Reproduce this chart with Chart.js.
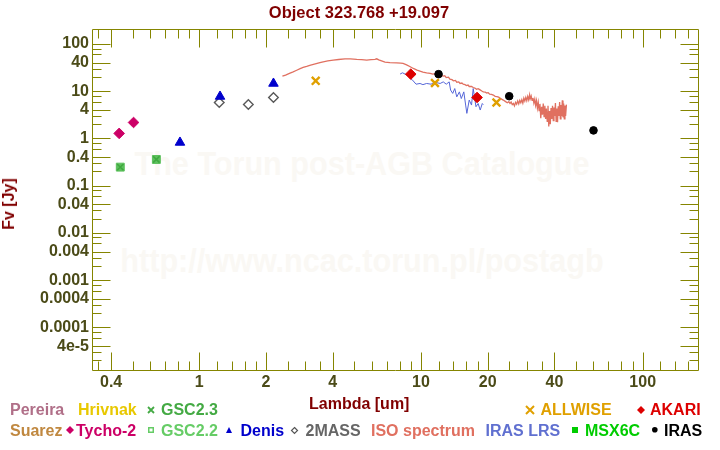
<!DOCTYPE html>
<html><head><meta charset="utf-8">
<script src="https://cdn.jsdelivr.net/npm/chart.js@4.4.1/dist/chart.umd.min.js"></script>
<style>
body{margin:0;background:#fff;}
#wrap{position:relative;width:720px;height:450px;overflow:hidden;font-family:"Liberation Sans",Arial,sans-serif;font-weight:bold;}
#wrap canvas{position:absolute;left:0;top:0;}
.t{position:absolute;white-space:nowrap;font-size:16px;line-height:16px;}
.wm{position:absolute;white-space:nowrap;font-size:34px;line-height:34px;color:#faf8f4;transform:translateX(-50%) scaleX(0.9);}
svg{position:absolute;overflow:visible;}
</style></head>
<body>
<div id="wrap">
  <div class="wm" style="left:362px;top:146px">The Torun post-AGB Catalogue</div>
  <div class="wm" style="left:362px;top:243px">http://www.ncac.torun.pl/postagb</div>
  <canvas id="c" width="720" height="450"></canvas>
  <div class="t" style="left:359px;top:3.5px;font-size:16.5px;color:#800000;transform:translateX(-50%)">Object 323.768 +19.097</div>
  <div class="t" style="left:309px;top:395.5px;color:#800000">Lambda [um]</div>
  <div class="t" style="left:9.4px;top:203.7px;color:#800000;transform:translate(-50%,-50%) rotate(-90deg)">Fv [Jy]</div>
  <!-- legend row 1 -->
  <div class="t" style="left:10px;top:402.2px;color:#b06f88">Pereira</div>
  <div class="t" style="left:78px;top:402.2px;color:#e8c800">Hrivnak</div>
  <svg style="left:148px;top:407px" width="6" height="6"><path d="M0 0L6 6M6 0L0 6" stroke="#44aa44" stroke-width="1.8"/></svg>
  <div class="t" style="left:161px;top:402.2px;color:#44aa44">GSC2.3</div>
  <svg style="left:526px;top:406px" width="8" height="8"><path d="M0 0L8 8M8 0L0 8" stroke="#e0a000" stroke-width="2"/></svg>
  <div class="t" style="left:540.5px;top:402.2px;color:#e0a000">ALLWISE</div>
  <svg style="left:637px;top:406px" width="8" height="8"><path d="M4 0L8 4L4 8L0 4Z" fill="#dd0000"/></svg>
  <div class="t" style="left:650px;top:402.2px;color:#dd0000">AKARI</div>
  <!-- legend row 2 -->
  <div class="t" style="left:10px;top:422.8px;color:#c08840">Suarez</div>
  <svg style="left:66px;top:426px" width="8" height="8"><path d="M4 0L8 4L4 8L0 4Z" fill="#cc0066"/></svg>
  <div class="t" style="left:76px;top:422.8px;color:#cc0066">Tycho-2</div>
  <svg style="left:148px;top:427px" width="6" height="6"><rect x="0.75" y="0.75" width="4.5" height="4.5" fill="none" stroke="#66cc66" stroke-width="1.5"/></svg>
  <div class="t" style="left:161px;top:422.8px;color:#66cc66">GSC2.2</div>
  <svg style="left:225.7px;top:427px" width="6" height="6"><path d="M3 0L6 6L0 6Z" fill="#0000cc"/></svg>
  <div class="t" style="left:240.5px;top:422.8px;color:#0000cc">Denis</div>
  <svg style="left:291.2px;top:426.5px" width="7" height="7"><path d="M3.5 0.5L6.5 3.5L3.5 6.5L0.5 3.5Z" fill="none" stroke="#555555" stroke-width="1.2"/></svg>
  <div class="t" style="left:305.5px;top:422.8px;color:#666666">2MASS</div>
  <div class="t" style="left:371px;top:422.8px;color:#e07060">ISO spectrum</div>
  <div class="t" style="left:485.5px;top:422.8px;color:#6070d0">IRAS LRS</div>
  <svg style="left:572.3px;top:427px" width="6" height="6"><rect x="0" y="0" width="6" height="6" fill="#00cc00"/></svg>
  <div class="t" style="left:585px;top:422.8px;color:#00cc00">MSX6C</div>
  <svg style="left:652.3px;top:427.3px" width="6" height="6"><circle cx="2.8" cy="2.8" r="2.8" fill="#000"/></svg>
  <div class="t" style="left:664px;top:422.8px;color:#000">IRAS</div>
</div>
<script>
// ---- tick definitions ----
const xMajor = [0.4, 1, 2, 4, 10, 20, 40, 100];
const xMajorLabels = ["0.4", "1", "2", "4", "10", "20", "40", "100"];
const xMinor = [0.35, 0.5, 0.6, 0.7, 0.8, 0.9, 1.2, 1.4, 1.6, 1.8, 2.5, 3, 3.5, 5, 6, 7, 8, 9, 12, 14, 16, 18, 25, 30, 35, 50, 60, 70, 80, 90, 120, 140, 160];
const yMajor = [100, 40, 10, 4, 1, 0.4, 0.1, 0.04, 0.01, 0.004, 0.001, 0.0004, 0.0001, 4e-5];
const yMajorLabels = ["100", "40", "10", "4", "1", "0.4", "0.1", "0.04", "0.01", "0.004", "0.001", "0.0004", "0.0001", "4e-5"];
const yMinor = [80, 60, 30, 20, 8, 6, 3, 2, 0.8, 0.6, 0.3, 0.2, 0.08, 0.06, 0.03, 0.02, 0.008, 0.006, 0.003, 0.002, 8e-4, 6e-4, 3e-4, 2e-4, 8e-5, 6e-5, 3e-5, 2e-5];

// ---- photometry ----
const tychoWave = [0.435, 0.505];
const tychoFlux = [1.28, 2.18];
const gsc22Wave = [0.44, 0.64];
const gsc22Flux = [0.247, 0.359];
const gsc23Wave = [0.44, 0.64];
const gsc23Flux = [0.247, 0.359];
const denisWave = [0.818, 1.24, 2.16];
const denisFlux = [0.823, 7.75, 14.6];
const twomassWave = [1.23, 1.664, 2.16];
const twomassFlux = [5.79, 5.25, 7.39];
const allwiseWave = [3.35, 11.56, 21.9];
const allwiseFlux = [16.6, 15.0, 5.79];
const akariWave = [8.99, 17.9];
const akariFlux = [23.0, 7.38];
const irasWave = [12, 25, 60];
const irasFlux = [23.0, 7.86, 1.48];

// ---- spectra ----
const isoWave = [2.37, 2.45, 2.55, 2.65, 2.75, 2.85, 2.94, 3.05, 3.15, 3.27, 3.40, 3.50, 3.62, 3.80, 4.02, 4.25, 4.54, 4.80, 5.13, 5.40, 5.69, 5.95, 6.20, 6.31, 6.45, 6.88, 7.24, 7.76, 8.1, 8.3, 8.61, 8.9, 9.23, 9.6,
  10.2, 10.6, 11.0, 11.3, 11.6, 11.8, 12.2, 12.6, 12.8, 13.0, 13.3, 13.5, 13.8, 14.0, 14.3, 14.5, 14.8, 15.0, 15.3, 15.5, 15.8, 16.0, 16.3, 16.5, 16.9, 17.2, 17.5, 17.8, 18.1, 18.4, 18.8, 19.1, 19.5, 19.8, 20.1, 20.4, 20.8, 21.2, 21.6, 22.0, 22.4, 22.7, 23.1,
  23.5, 24.0, 24.5, 24.9, 25.2, 25.5, 25.8, 26.1, 26.4, 26.7, 27.0, 27.3, 27.6, 27.9, 28.2, 28.5, 28.8, 29.1, 29.4, 29.7, 30.0, 30.3, 30.6, 30.9, 31.1, 31.4, 31.7, 32.0, 32.3, 32.6, 32.9, 33.2,
  33.5, 33.8, 34.1, 34.4, 34.7, 35.0, 35.3, 35.6, 35.9, 36.2, 36.5, 36.8, 37.1, 37.4, 37.7, 38.0, 38.3, 38.6, 38.9, 39.2, 39.5, 39.8, 40.1, 40.4, 40.7, 41.0, 41.3, 41.6, 41.9, 42.2, 42.5, 42.8, 43.1, 43.4, 43.7, 44.0, 44.3, 44.6, 44.9, 45.3];
const isoFlux = [20.9, 22.0, 24.0, 25.8, 27.8, 30.0, 31.9, 33.6, 35.3, 37.0, 39.0, 40.5, 42.0, 44.0, 45.6, 47.0, 48.6, 48.5, 47.2, 46.5, 45.6, 46.5, 47.5, 48.6, 46.0, 41.2, 40.5, 40.0, 39.2, 38.8, 36.3, 33.5, 30.4, 28.0,
  25.4, 24.5, 23.8, 23.1, 23.5, 22.3, 21.8, 20.9, 21.3, 19.5, 19.9, 18.0, 17.6, 16.6, 16.9, 15.5, 15.8, 14.6, 14.9, 14.1, 13.9, 13.2, 13.5, 12.6, 12.7, 12.0, 11.7, 11.0, 11.3, 10.8, 10.1, 9.7, 9.6, 9.2, 9.3, 8.7, 8.6, 8.3, 7.8, 7.7, 7.5, 7.2, 6.8,
  6.5, 6.1, 5.7, 6.0, 5.5, 5.9, 5.2, 5.5, 4.9, 5.8, 5.3, 6.2, 5.4, 6.4, 5.7, 6.6, 5.6, 7.1, 6.2, 7.4, 6.3, 7.8, 6.6, 8.4, 6.9, 7.9, 6.4, 7.2, 5.6, 6.8, 5.0, 6.3,
  4.4, 5.8, 3.9, 5.4, 2.7, 4.7, 3.2, 5.5, 2.9, 4.9, 2.6, 4.3, 2.3, 4.9, 1.8, 3.8, 2.0, 4.4, 2.6, 4.9, 2.4, 4.5, 3.0, 5.6, 2.3, 4.3, 2.2, 4.8, 3.0, 5.9, 2.6, 5.1, 3.0, 6.4, 2.8, 5.5, 2.6, 5.0, 3.0, 5.2];
const lrsWave = [8.05, 8.25, 8.6, 8.9, 9.05, 9.16, 9.5, 9.9, 10.2, 10.6, 11.1, 11.5, 12.2, 12.6, 13.0, 13.4, 13.6, 13.9, 14.2, 14.5, 14.9, 15.2, 15.6, 15.9, 16.1, 16.5, 16.9, 17.2, 17.7, 18.1, 18.5, 18.9, 19.1];
const lrsFlux = [23.1, 24.6, 22.3, 20.0, 17.7, 17.2, 14.1, 14.6, 13.8, 14.6, 14.1, 15.6, 14.6, 15.8, 14.1, 15.8, 10.6, 9.0, 11.4, 7.6, 9.7, 7.0, 9.7, 5.1, 3.4, 6.5, 5.1, 11.4, 4.7, 5.5, 4.0, 5.5, 5.2];

const pts = (xs, ys) => xs.map((v, i) => ({x: v, y: ys[i]}));
const labelFor = (v, majors, labels) => {
  for (let i = 0; i < majors.length; i++) {
    if (Math.abs(Math.log10(v) - Math.log10(majors[i])) < 1e-6) return labels[i];
  }
  return '';
};

const FRAME = '#858500';
const frameTicks = {
  id: 'frameTicks',
  beforeDatasetsDraw(chart) {
    const {ctx, chartArea: a, scales: {x, y}} = chart;
    const L = Math.round(a.left) + 0.5, R = Math.round(a.right) - 0.5;
    const T = Math.round(a.top) + 0.5, B = Math.round(a.bottom) - 0.5;
    ctx.save();
    ctx.strokeStyle = FRAME;
    ctx.lineWidth = 1;
    ctx.beginPath();
    ctx.rect(L, T, R - L, B - T);
    const xt = (vals, len) => vals.forEach(v => {
      const p = Math.round(x.getPixelForValue(v)) + 0.5;
      if (p < L || p > R) return;
      ctx.moveTo(p, B); ctx.lineTo(p, B - len);
      ctx.moveTo(p, T); ctx.lineTo(p, T + len);
    });
    const yt = (vals, len) => vals.forEach(v => {
      const p = Math.round(y.getPixelForValue(v)) + 0.5;
      if (p < T || p > B) return;
      ctx.moveTo(L, p); ctx.lineTo(L + len, p);
      ctx.moveTo(R, p); ctx.lineTo(R - len, p);
    });
    xt(xMajor, 18); xt(xMinor, 9);
    yt(yMajor, 18); yt(yMinor, 9);
    ctx.stroke();
    ctx.restore();
  }
};

Chart.defaults.font.family = '"Liberation Sans", Arial, sans-serif';
const tickFont = {size: 16, weight: 'bold'};
const TICKCOL = '#4b4b18';

new Chart(document.getElementById('c'), {
  type: 'scatter',
  data: {
    datasets: [
      {label: 'Tycho-2', data: pts(tychoWave, tychoFlux), pointStyle: 'rectRot', pointRadius: 5.3, backgroundColor: '#cc0066', borderColor: '#cc0066', borderWidth: 1, order: 1},
      {label: 'GSC2.3', data: pts(gsc23Wave, gsc23Flux), pointStyle: 'crossRot', pointRadius: 4.5, backgroundColor: '#3fa83f', borderColor: '#3fa83f', borderWidth: 1.5, order: 1},
      {label: 'GSC2.2', data: pts(gsc22Wave, gsc22Flux), pointStyle: 'rect', pointRadius: 5.6, backgroundColor: '#5cc05c', borderColor: '#5cc05c', borderWidth: 1, order: 1},
      {label: 'Denis', data: pts(denisWave, denisFlux), pointStyle: 'triangle', pointRadius: 5.5, backgroundColor: '#0000cc', borderColor: '#0000cc', borderWidth: 1, order: 1},
      {label: '2MASS', data: pts(twomassWave, twomassFlux), pointStyle: 'rectRot', pointRadius: 4.8, backgroundColor: '#ffffff', borderColor: '#5a5a5a', borderWidth: 1.4, order: 1},
      {label: 'ALLWISE', data: pts(allwiseWave, allwiseFlux), pointStyle: 'crossRot', pointRadius: 5.5, backgroundColor: '#e0a000', borderColor: '#e0a000', borderWidth: 2.4, order: 1},
      {label: 'AKARI', data: pts(akariWave, akariFlux), pointStyle: 'rectRot', pointRadius: 5.3, backgroundColor: '#dd0000', borderColor: '#dd0000', borderWidth: 1, order: 1},
      {label: 'IRAS', data: pts(irasWave, irasFlux), pointStyle: 'circle', pointRadius: 3.8, backgroundColor: '#000000', borderColor: '#000000', borderWidth: 1, order: 1},
      {label: 'ISO spectrum', data: pts(isoWave, isoFlux), showLine: true, pointRadius: 0, borderColor: '#e07060', borderWidth: 1.3, tension: 0, order: 2},
      {label: 'IRAS LRS', data: pts(lrsWave, lrsFlux), showLine: true, pointRadius: 0, borderColor: '#5566d8', borderWidth: 1, tension: 0, order: 2}
    ]
  },
  options: {
    responsive: false,
    animation: false,
    devicePixelRatio: 1,
    layout: {padding: {left: 0, right: 21, top: 29.3, bottom: 0}},
    plugins: {
      legend: {display: false},
      tooltip: {enabled: false},
      title: {display: false}
    },
    scales: {
      x: {
        type: 'logarithmic', position: 'bottom', bounds: 'data', min: 0.328, max: 179.5,
        afterBuildTicks: s => { s.ticks = xMajor.concat(xMinor).sort((a, b) => a - b).map(v => ({value: v})); },
        afterFit: s => { s.height = 79; },
        grid: {display: false, drawTicks: false}, border: {display: false},
        ticks: {autoSkip: false, maxRotation: 0, minRotation: 0, padding: 1.5, color: TICKCOL, font: tickFont,
          callback: v => labelFor(v, xMajor, xMajorLabels)}
      },
      y: {
        type: 'logarithmic', position: 'left', bounds: 'data', min: 1.19e-5, max: 205,
        afterBuildTicks: s => { s.ticks = yMajor.concat(yMinor).sort((a, b) => a - b).map(v => ({value: v})); },
        afterFit: s => { s.width = 92; },
        grid: {display: false, drawTicks: false}, border: {display: false},
        ticks: {autoSkip: false, padding: 3, color: TICKCOL, font: tickFont,
          callback: v => labelFor(v, yMajor, yMajorLabels)}
      }
    }
  },
  plugins: [frameTicks]
});
</script>
</body></html>
